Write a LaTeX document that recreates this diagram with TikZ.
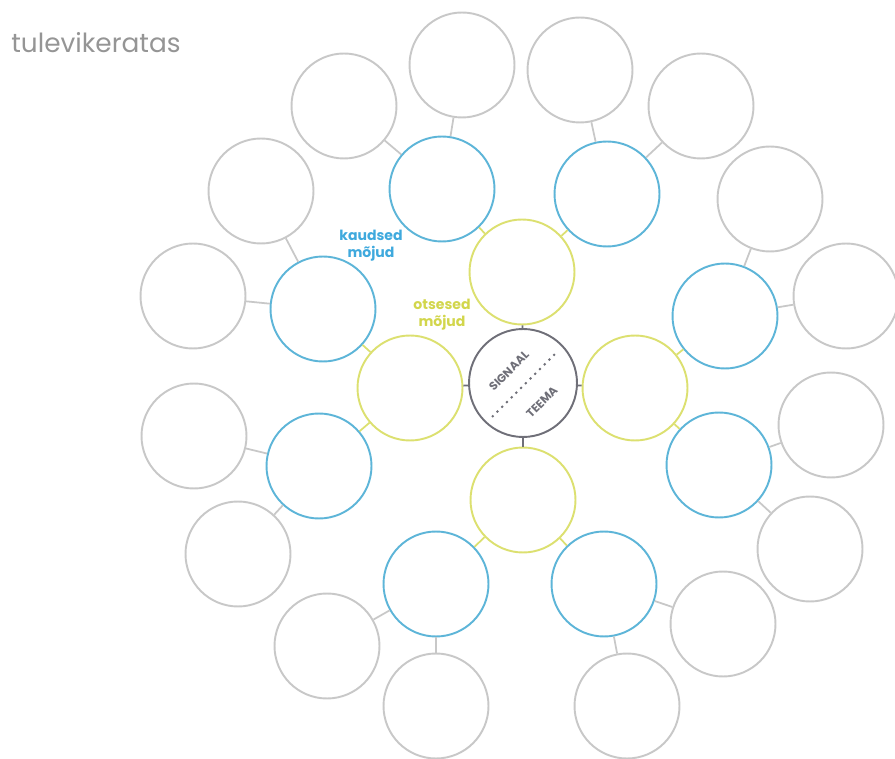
\documentclass[tikz,border=0pt]{standalone}
\usepackage{fontspec}
\setmainfont{Poppins}
\definecolor{ringgray}{HTML}{C8C8C8}
\definecolor{ringblue}{HTML}{5DB5D8}
\definecolor{ringyellow}{HTML}{DCE070}
\definecolor{coregray}{HTML}{6F6F78}
\definecolor{titlegray}{HTML}{959595}
\definecolor{labelblue}{HTML}{3FA9DD}
\definecolor{labelyellow}{HTML}{D2D64C}
\tikzset{
  ring/.style={circle, minimum size=2.1cm, inner sep=0pt, line width=1.1pt, fill=white},
  outer/.style={ring, draw=ringgray},
  mid/.style={ring, draw=ringblue},
  inner/.style={ring, draw=ringyellow},
  core/.style={ring, draw=coregray, minimum size=2.16cm},
  label/.style={align=center, font=\bfseries\fontsize{8}{9.6}\selectfont},
  coretext/.style={rotate=45, inner sep=0pt, text=coregray, font=\bfseries\fontsize{6.6}{7}\selectfont}
}
\begin{document}
\begin{tikzpicture}[x=0.02cm, y=-0.02cm]
\useasboundingbox (0,0) rectangle (895,759);
\node[anchor=base west, text=titlegray, font=\fontsize{15}{17}\selectfont, inner sep=0pt] (title) at (11,53) {tulevikeratas};
\node[core] (core) at (523,383) {};
\foreach \n/\x/\y in {y1/522/272, y2/410/388, y3/635/388, y4/523/500} {
    \node[inner] (\n) at (\x,\y) {};
    \draw[coregray, line width=1pt] (core) -- (\n);
}
\foreach \n/\x/\y/\p in {b1/442/189/y1, b2/607/194/y1, b3/323/309/y2, b4/725/316/y3,
                         b5/319/466/y2, b6/719/465/y3, b7/436/584/y4, b8/604/584/y4} {
    \node[mid] (\n) at (\x,\y) {};
    \draw[ringyellow, line width=1pt] (\p) -- (\n);
}
\foreach \n/\x/\y/\p in {g1/462/65/b1, g2/344/106/b1, g3/580/70/b2, g4/701/106/b2,
                         g5/261/191/b3, g6/193/296/b3, g7/770/199/b4, g8/846/296/b4,
                         g9/194/436/b5, g10/238/554/b5, g11/831/425/b6, g12/810/549/b6,
                         g13/327/646/b7, g14/436/706/b7, g15/723/624/b8, g16/627/706/b8} {
    \node[outer] (\n) at (\x,\y) {};
    \draw[ringgray, line width=1pt] (\p) -- (\n);
}
\draw[coregray, line width=1.1pt, dash pattern=on 1.2pt off 2.6pt] ([shift={(-31,34)}]core.center) -- ([shift={(34,-31)}]core.center);
\node[coretext] (signal) at (509,371) {SIGNAAL};
\node[coretext] (theme) at (542,402) {TEEMA};
\node[label, text=labelblue] (indirect) at (371,246) {kaudsed\\mõjud};
\node[label, text=labelyellow] (direct) at (442,315) {otsesed\\mõjud};
\end{tikzpicture}
\end{document}
